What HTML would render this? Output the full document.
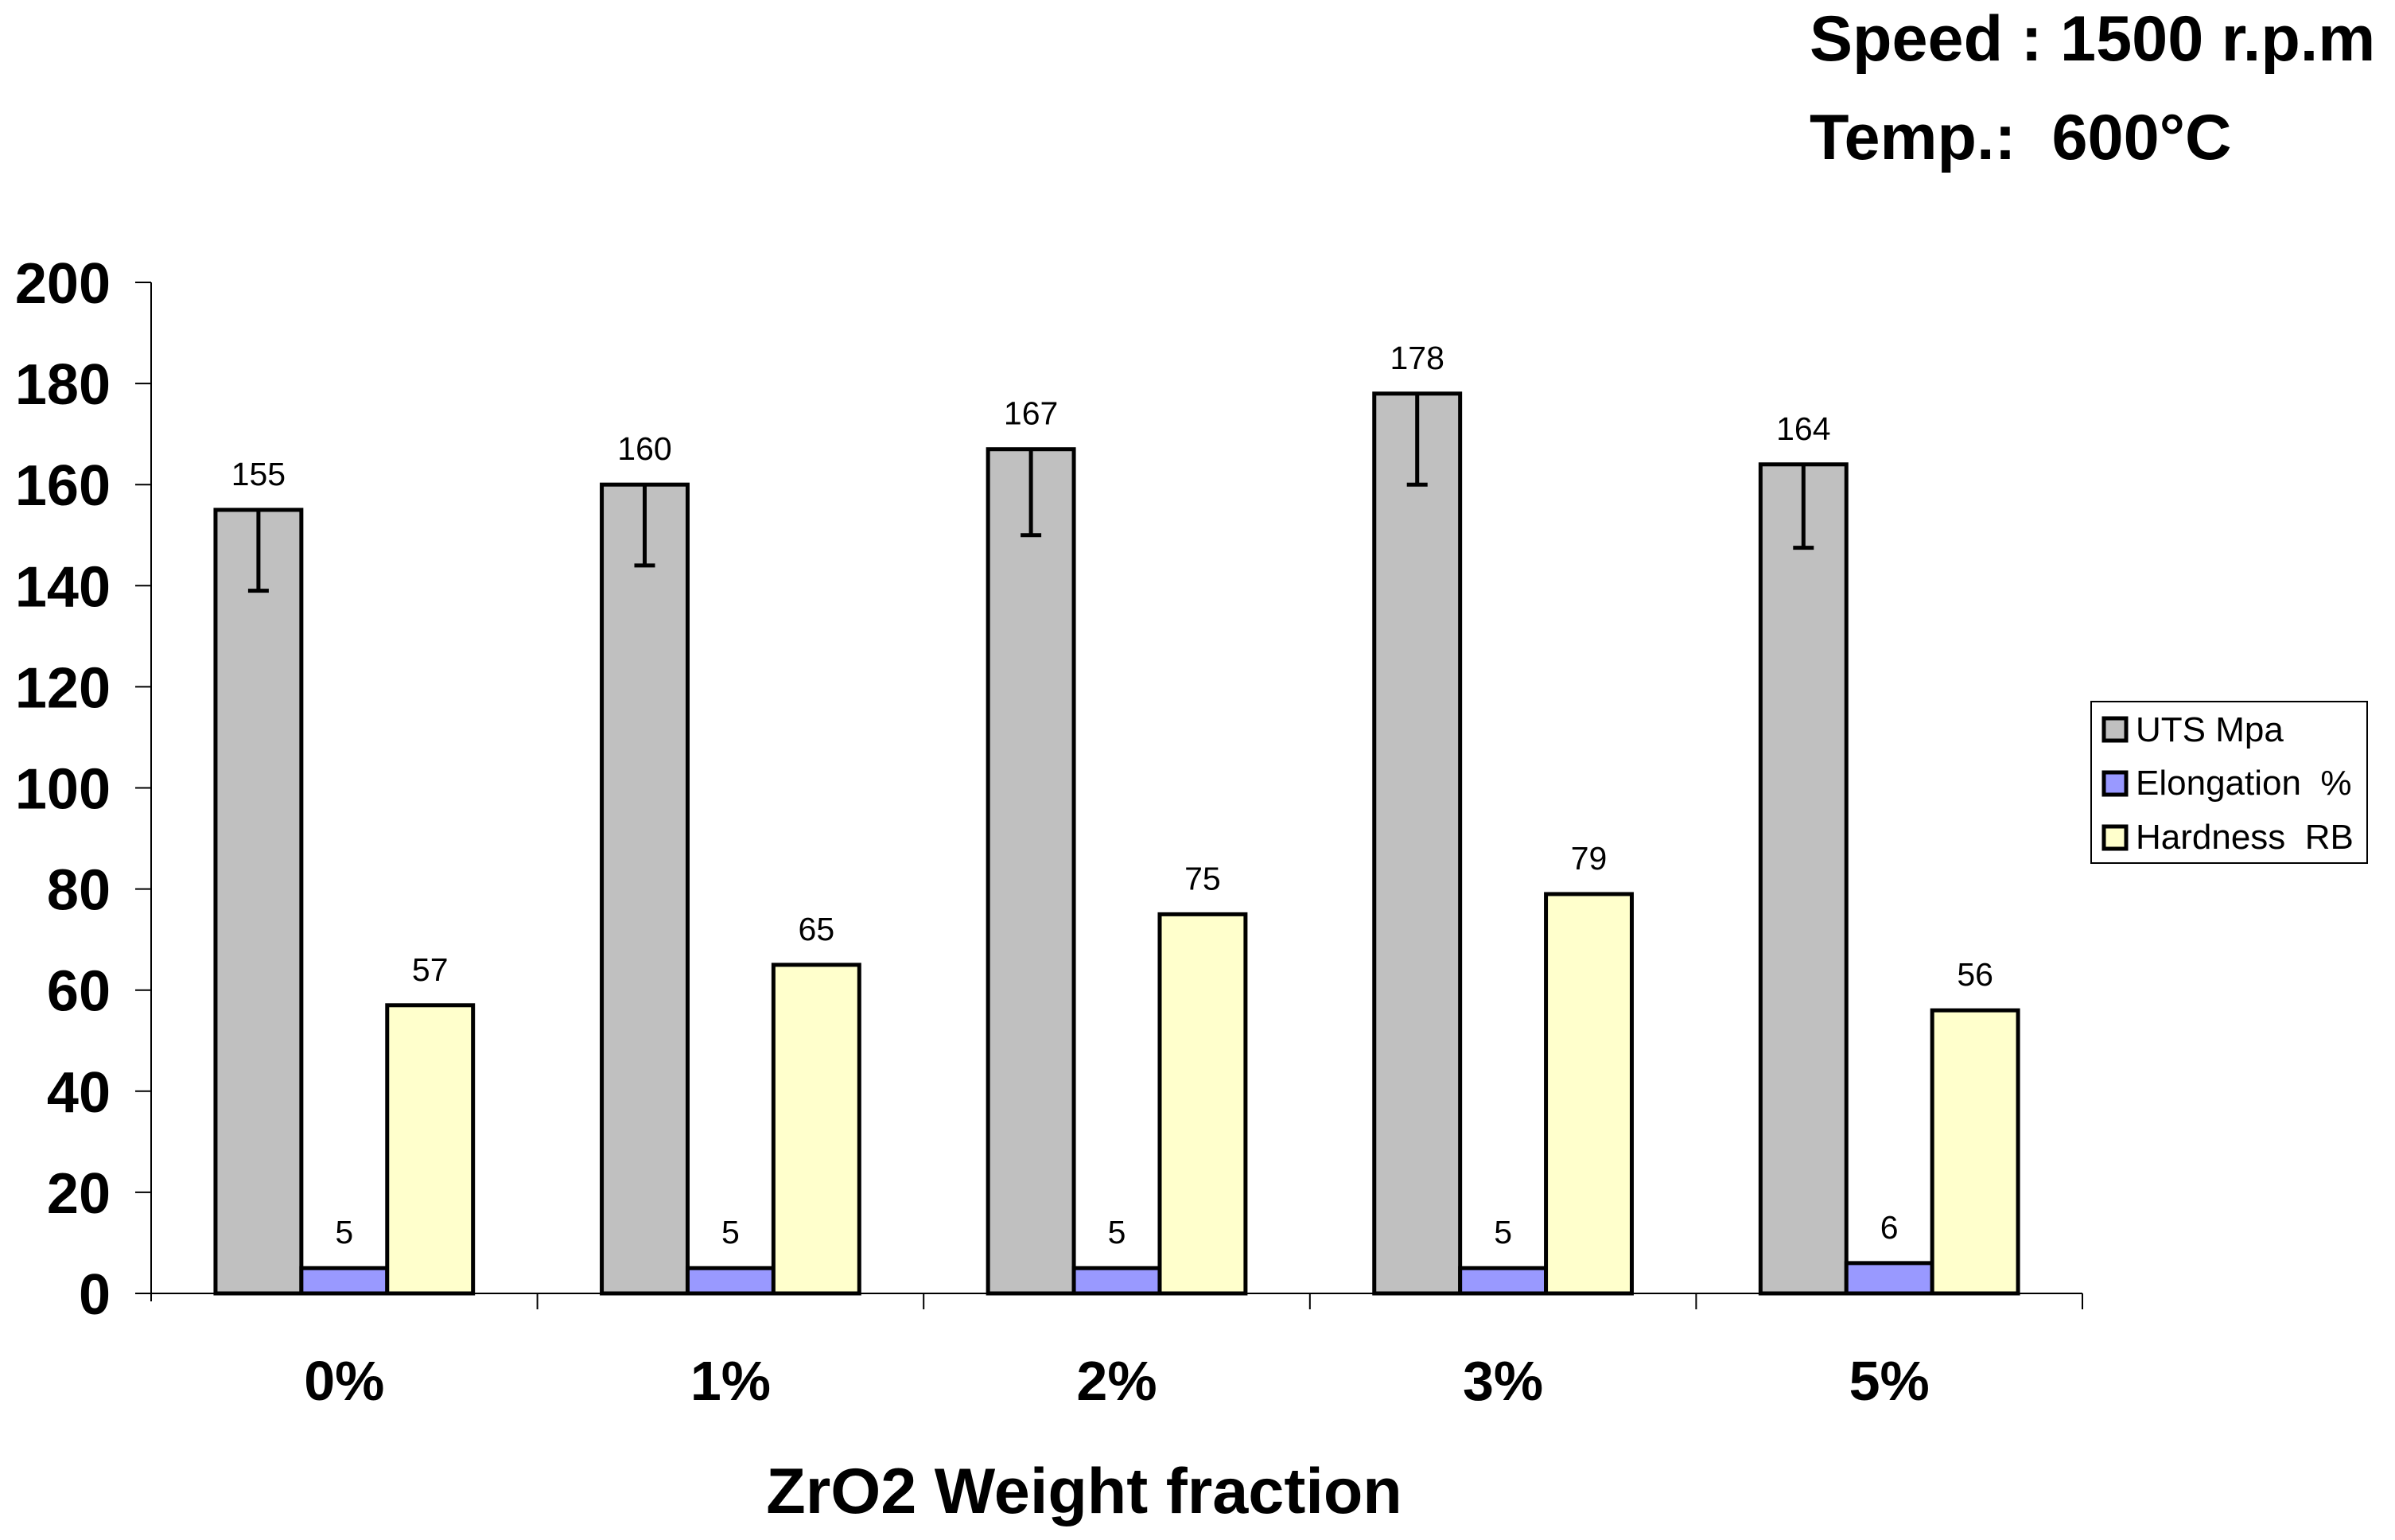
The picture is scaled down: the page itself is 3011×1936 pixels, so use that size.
<!DOCTYPE html>
<html><head><meta charset="utf-8"><style>
body{margin:0;background:#fff;}
svg{display:block;font-family:"Liberation Sans",Arial,sans-serif;}
</style></head><body>
<svg id="chart" width="3011" height="1936" viewBox="0 0 3011 1936">
<text x="2275" y="76" font-size="81" font-weight="bold">Speed : 1500 r.p.m</text>
<text x="2275" y="200" font-size="81" font-weight="bold" xml:space="preserve">Temp.:  600°C</text>
<g id="axes"></g>
<g id="bars"></g>
<text x="1363" y="1902" font-size="81" font-weight="bold" text-anchor="middle">ZrO2 Weight fraction</text>
<g>
<rect x="2629" y="882" width="347" height="203" fill="#fff" stroke="#000" stroke-width="2"/>
<rect x="2645" y="903" width="28" height="28" fill="#c0c0c0" stroke="#000" stroke-width="5"/>
<text x="2685" y="932" font-size="44">UTS Mpa</text>
<rect x="2645" y="971" width="28" height="28" fill="#9999ff" stroke="#000" stroke-width="5"/>
<text x="2685" y="999" font-size="44" xml:space="preserve">Elongation  %</text>
<rect x="2645" y="1039" width="28" height="28" fill="#ffffcc" stroke="#000" stroke-width="5"/>
<text x="2685" y="1067" font-size="44" xml:space="preserve">Hardness  RB</text>
</g>
</svg>
<script>
const categories = ["0%","1%","2%","3%","5%"];
const utsValues = [155,160,167,178,164];
const utsErrors = [16,16,17,18,16.5];
const elongationValues = [5,5,5,5,6];
const hardnessValues = [57,65,75,79,56];
const yTicks = [0,20,40,60,80,100,120,140,160,180,200];

const NS="http://www.w3.org/2000/svg";
const X0=190, X1=2618, Y0=1626, Y1=355, YMAX=200;
const y = v => Y0 - (v/YMAX)*(Y0-Y1);
const catW = (X1-X0)/categories.length;
const barW = catW/4.5;
const xBar = (i,s) => X0 + i*catW + catW*0.1667 + s*barW;
function mk(tag,attrs,parent){const e=document.createElementNS(NS,tag);for(const k in attrs)e.setAttribute(k,attrs[k]);parent.appendChild(e);return e;}
const axes=document.getElementById('axes'), bars=document.getElementById('bars');

let yl=mk('line',{x1:X0,y1:Y1,x2:X0,y2:Y0+10,stroke:'#000','stroke-width':2},axes);


let xl=mk('line',{x1:X0-20,y1:Y0,x2:X1,y2:Y0,stroke:'#000','stroke-width':2},axes);


yTicks.forEach(t=>{
  let tk=mk('line',{x1:X0-20,y1:y(t),x2:X0,y2:y(t),stroke:'#000','stroke-width':2},axes);
  
  
  let tx=mk('text',{x:139,y:y(t)+26,'font-size':72,'font-weight':'bold','text-anchor':'end'},axes);
  tx.textContent=t;
  
  
});
categories.forEach((c,i)=>{
  let tk=mk('line',{x1:X0+(i+1)*catW,y1:Y0,x2:X0+(i+1)*catW,y2:Y0+20,stroke:'#000','stroke-width':2},axes);
  
  
  let tx=mk('text',{x:X0+(i+0.5)*catW,y:1760,'font-size':70,'font-weight':'bold','text-anchor':'middle'},axes);
  tx.textContent=c;
  
  
});
const series=[[utsValues,'#c0c0c0','bar-uts'],[elongationValues,'#9999ff','bar-elongation'],[hardnessValues,'#ffffcc','bar-hardness']];
categories.forEach((c,i)=>{
  series.forEach(([vals,col,nm],s)=>{
    const v=vals[i], bx=xBar(i,s);
    let r=mk('rect',{x:bx,y:y(v),width:barW,height:Y0-y(v),fill:col,stroke:'#000','stroke-width':5},bars);
    
    
    let t=mk('text',{x:bx+barW/2,y:y(v)-31,'font-size':41,'text-anchor':'middle'},bars);
    t.textContent=v;
    
    
  });
  const cx=xBar(i,0)+barW/2, lo=utsValues[i]-utsErrors[i];
  let e=mk('path',{d:`M${cx},${y(utsValues[i])} V${y(lo)} M${cx-13},${y(lo)} H${cx+13}`,stroke:'#000','stroke-width':5,fill:'none'},bars);
  
  
});
</script>
</body></html>
